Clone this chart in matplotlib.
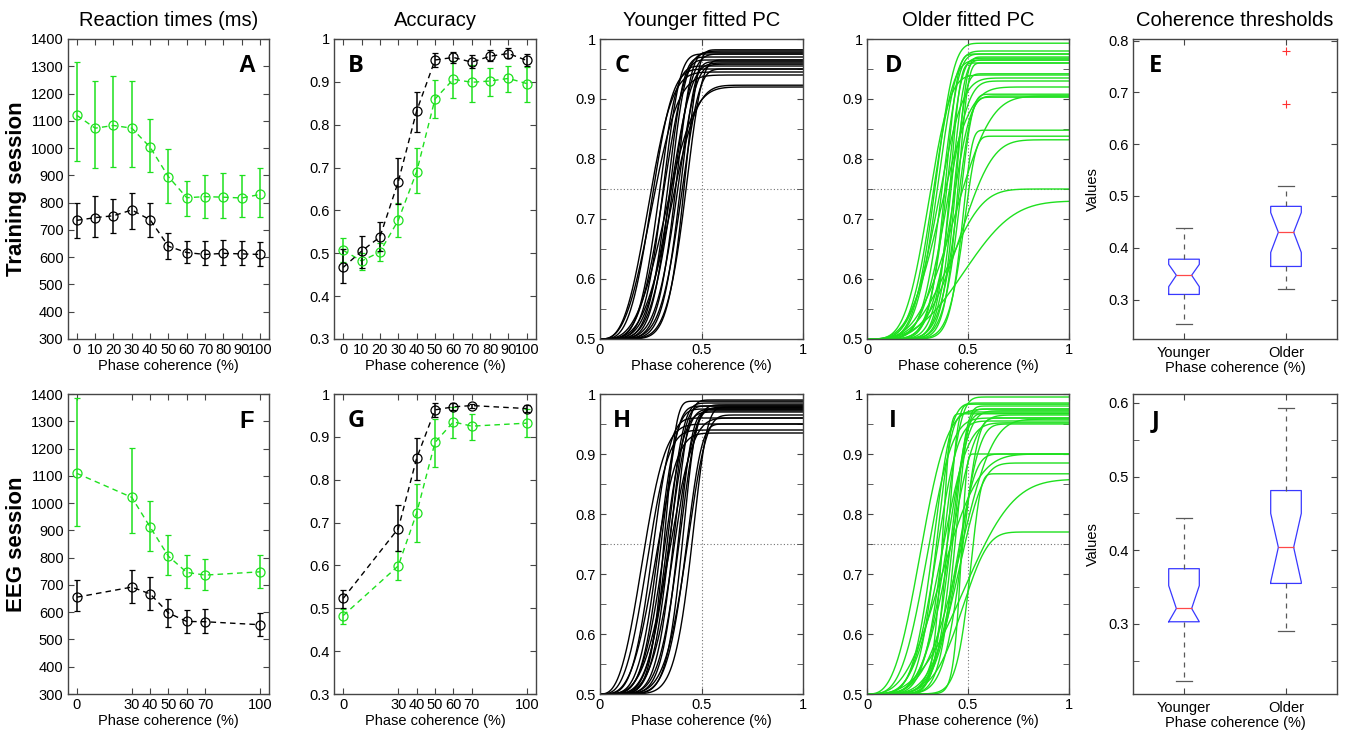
import numpy as np
import matplotlib.pyplot as plt
from matplotlib.ticker import MultipleLocator, FuncFormatter

plt.rcParams['font.family'] = ['Liberation Sans', 'DejaVu Sans']

GREEN = '#1ee01e'
FRAME = '#454545'

# ---- reaction times / accuracy, training session (x = 0..100 step 10)
x_train = [0, 10, 20, 30, 40, 50, 60, 70, 80, 90, 100]
rt_train_old = [1120, 1073, 1083, 1073, 1003, 895, 818, 822, 820, 817, 830]
rt_train_old_lo = [951, 926, 930, 930, 912, 797, 750, 742, 745, 748, 748]
rt_train_old_hi = [1317, 1245, 1263, 1245, 1105, 995, 880, 902, 908, 900, 927]
rt_train_young = [735, 745, 752, 773, 737, 640, 617, 610, 614, 612, 610]
rt_train_young_lo = [672, 673, 690, 705, 673, 595, 577, 570, 572, 570, 567]
rt_train_young_hi = [797, 826, 815, 835, 800, 690, 660, 658, 664, 660, 657]

acc_train_young = [0.467, 0.505, 0.538, 0.667, 0.832, 0.951, 0.957, 0.946, 0.960, 0.966, 0.950]
acc_train_young_lo = [0.430, 0.465, 0.505, 0.615, 0.782, 0.935, 0.945, 0.932, 0.948, 0.955, 0.937]
acc_train_young_hi = [0.510, 0.540, 0.572, 0.722, 0.877, 0.968, 0.970, 0.963, 0.974, 0.980, 0.965]
acc_train_old = [0.507, 0.482, 0.503, 0.577, 0.690, 0.860, 0.906, 0.899, 0.902, 0.908, 0.896]
acc_train_old_lo = [0.480, 0.460, 0.482, 0.537, 0.640, 0.815, 0.863, 0.853, 0.866, 0.877, 0.853]
acc_train_old_hi = [0.535, 0.500, 0.525, 0.618, 0.745, 0.905, 0.948, 0.940, 0.933, 0.938, 0.935]

# ---- EEG session
x_eeg = [0, 30, 40, 50, 60, 70, 100]
rt_eeg_old = [1109, 1021, 912, 805, 746, 736, 748]
rt_eeg_old_lo = [915, 889, 826, 737, 687, 681, 689]
rt_eeg_old_hi = [1385, 1202, 1006, 882, 808, 795, 811]
rt_eeg_young = [655, 692, 667, 597, 566, 565, 554]
rt_eeg_young_lo = [603, 633, 609, 545, 524, 522, 511]
rt_eeg_young_hi = [719, 753, 729, 649, 607, 612, 597]

acc_eeg_young = [0.523, 0.686, 0.850, 0.963, 0.970, 0.973, 0.966]
acc_eeg_young_lo = [0.501, 0.633, 0.799, 0.946, 0.962, 0.967, 0.957]
acc_eeg_young_hi = [0.543, 0.740, 0.897, 0.979, 0.979, 0.977, 0.974]
acc_eeg_old = [0.483, 0.599, 0.722, 0.887, 0.935, 0.925, 0.932]
acc_eeg_old_lo = [0.464, 0.566, 0.655, 0.830, 0.897, 0.893, 0.899]
acc_eeg_old_hi = [0.498, 0.633, 0.791, 0.942, 0.970, 0.953, 0.965]

# ---- fitted Weibull psychometric functions: (scale, shape, upper asymptote)
fit_train_young = [(0.27, 3.0, 0.945), (0.28, 3.5, 0.95), (0.29, 2.9, 0.94), (0.31, 4.5, 0.955),
                   (0.33, 5.0, 0.975), (0.34, 4.0, 0.98), (0.35, 5.5, 0.97), (0.36, 3.3, 0.92),
                   (0.36, 6.0, 0.965), (0.37, 4.5, 0.96), (0.38, 5.0, 0.975), (0.38, 3.8, 0.923),
                   (0.39, 6.5, 0.978), (0.40, 5.5, 0.958), (0.41, 7.0, 0.962), (0.42, 6.0, 0.95),
                   (0.43, 8.0, 0.982), (0.44, 7.0, 0.965)]
fit_train_old = [(0.36, 5.0, 0.993), (0.33, 4.0, 0.94), (0.35, 4.5, 0.965), (0.37, 5.0, 0.98),
                 (0.38, 4.0, 0.935), (0.39, 6.0, 0.975), (0.40, 3.5, 0.92), (0.41, 7.0, 0.968),
                 (0.42, 5.0, 0.93), (0.43, 8.0, 0.965), (0.44, 9.0, 0.942), (0.44, 6.0, 0.905),
                 (0.45, 10.0, 0.97), (0.46, 8.0, 0.903), (0.46, 11.0, 0.96), (0.47, 9.0, 0.908),
                 (0.48, 3.5, 0.905), (0.48, 12.0, 0.848), (0.49, 10.0, 0.838), (0.50, 4.0, 0.832),
                 (0.45, 3.5, 0.75), (0.55, 3.0, 0.73), (0.42, 10.0, 0.96), (0.40, 8.0, 0.975)]
fit_eeg_young = [(0.24, 2.8, 0.95), (0.26, 3.2, 0.94), (0.28, 4.0, 0.96), (0.30, 3.5, 0.935),
                 (0.31, 4.5, 0.975), (0.32, 5.0, 0.98), (0.33, 7.0, 0.988), (0.34, 4.5, 0.97),
                 (0.35, 5.5, 0.985), (0.36, 5.0, 0.975), (0.36, 6.0, 0.98), (0.37, 4.0, 0.96),
                 (0.38, 6.5, 0.99), (0.39, 5.0, 0.978), (0.40, 7.0, 0.972), (0.41, 6.0, 0.982),
                 (0.42, 8.0, 0.975), (0.44, 7.0, 0.95), (0.45, 6.0, 0.965), (0.47, 8.0, 0.978)]
fit_eeg_old = [(0.30, 3.0, 0.975), (0.33, 3.5, 0.96), (0.35, 5.0, 0.985), (0.37, 4.5, 0.955),
               (0.38, 12.0, 0.967), (0.40, 6.0, 0.995), (0.40, 4.0, 0.952), (0.41, 10.0, 0.983),
               (0.42, 5.0, 0.972), (0.43, 7.0, 0.968), (0.44, 4.5, 0.965), (0.45, 9.0, 0.975),
               (0.46, 6.0, 0.9), (0.47, 20.0, 0.9), (0.48, 5.0, 0.885), (0.49, 8.0, 0.96),
               (0.50, 4.0, 0.958), (0.52, 12.0, 0.867), (0.55, 3.0, 0.858), (0.50, 5.0, 0.77),
               (0.44, 8.0, 0.98), (0.42, 3.0, 0.9), (0.36, 6.0, 0.97), (0.48, 6.0, 0.95)]

# ---- coherence threshold boxplots (whislo, q1, cilo, med, cihi, q3, whishi, fliers)
group_labels = ['Younger', 'Older']
thr_train = [(0.252, 0.310, 0.325, 0.347, 0.368, 0.378, 0.439, []),
             (0.320, 0.364, 0.391, 0.430, 0.468, 0.480, 0.519, [0.678, 0.779])]
thr_eeg = [(0.223, 0.303, 0.303, 0.321, 0.352, 0.375, 0.444, []),
           (0.291, 0.355, 0.357, 0.404, 0.450, 0.481, 0.593, [])]

fig = plt.figure(figsize=(13.46, 7.32), dpi=100)
lefts = [67.7, 334, 600, 867, 1133]
widths = [201.5, 202, 203, 202, 204]
tops = [39, 394]
H = 300
axes = []
for r in range(2):
    row = []
    for c in range(5):
        ax = fig.add_axes([lefts[c] / 1346, 1 - (tops[r] + H) / 732, widths[c] / 1346, H / 732])
        for s in ax.spines.values():
            s.set_color(FRAME)
            s.set_linewidth(1.0)
        ax.tick_params(direction='in', top=True, right=True, which='both', length=4,
                       color=FRAME, labelsize=10.5, pad=3)
        row.append(ax)
    axes.append(row)

fmt = FuncFormatter(lambda v, p: f'{v:g}')


def err_series(ax, x, m, lo, hi, color):
    m = np.array(m)
    yerr = [m - np.array(lo), np.array(hi) - m]
    ax.errorbar(x, m, yerr=yerr, fmt='o', mfc='none', mec=color, ms=6.5, mew=0.9,
                ecolor=color, elinewidth=1.1, capsize=2, capthick=1.0, zorder=3)
    ax.plot(x, m, linestyle=(0, (4, 3)), color=color, lw=1.0, zorder=2)


def rt_panel(ax, x, series, ticks):
    for m, lo, hi, col in series:
        err_series(ax, x, m, lo, hi, col)
    ax.set_xlim(-5, 105)
    ax.set_xticks(ticks)
    ax.set_xlabel('Phase coherence (%)', fontsize=10.5, labelpad=1)
    ax.yaxis.set_major_formatter(fmt)


def pc_panel(ax, fits, color):
    xs = np.linspace(0, 1, 500)
    for a, b, top in fits:
        ax.plot(xs, 0.5 + (top - 0.5) * (1 - np.exp(-(xs / a) ** b)), color=color, lw=1.0)
    ax.axvline(0.5, color='0.45', lw=0.8, ls=(0, (1, 2)), zorder=0)
    ax.axhline(0.75, color='0.45', lw=0.8, ls=(0, (1, 2)), zorder=0)
    ax.set_xlim(0, 1)
    ax.set_ylim(0.5, 1)
    ax.set_xticks([0, 0.5, 1])
    ax.set_yticks(np.arange(0.5, 1.01, 0.1))
    ax.yaxis.set_minor_locator(MultipleLocator(0.05))
    ax.xaxis.set_major_formatter(fmt)
    ax.yaxis.set_major_formatter(fmt)
    ax.set_xlabel('Phase coherence (%)', fontsize=10.5, labelpad=1)


def box_panel(ax, thr, ylim, minor):
    stats = []
    for lab, (wl, q1, cl, md, ch, q3, wh, fl) in zip(group_labels, thr):
        stats.append(dict(label=lab, whislo=wl, q1=q1, cilo=cl, med=md, cihi=ch,
                          q3=q3, whishi=wh, fliers=fl))
    ax.bxp(stats, positions=[1, 2], widths=0.3, shownotches=True,
           boxprops=dict(color='#3838ff', lw=0.9),
           medianprops=dict(color='#ff4848', lw=0.9),
           whiskerprops=dict(color='0.35', lw=0.9, ls=(0, (4, 4))),
           capprops=dict(color='0.35', lw=0.9),
           flierprops=dict(marker='+', markeredgecolor='#ff3030', ms=6, mew=0.8))
    ax.set_xlim(0.5, 2.5)
    ax.set_ylim(*ylim)
    ax.yaxis.set_major_locator(MultipleLocator(0.1))
    if minor:
        ax.yaxis.set_minor_locator(MultipleLocator(0.05))
    ax.yaxis.set_major_formatter(fmt)
    ax.tick_params(axis='x', length=4, labelsize=10.5, pad=5)
    ax.set_xlabel('Phase coherence (%)', fontsize=10.5, labelpad=1)
    ax.set_ylabel('Values', fontsize=10.5, labelpad=6)


# row 1
ax = axes[0][0]
rt_panel(ax, x_train, [(rt_train_old, rt_train_old_lo, rt_train_old_hi, GREEN),
                       (rt_train_young, rt_train_young_lo, rt_train_young_hi, 'black')],
         x_train)
ax.set_ylim(300, 1400)
ax.set_yticks(range(300, 1401, 100))
ax = axes[0][1]
rt_panel(ax, x_train, [(acc_train_old, acc_train_old_lo, acc_train_old_hi, GREEN),
                       (acc_train_young, acc_train_young_lo, acc_train_young_hi, 'black')],
         x_train)
ax.set_ylim(0.3, 1)
ax.set_yticks(np.arange(0.3, 1.01, 0.1))
pc_panel(axes[0][2], fit_train_young, 'black')
pc_panel(axes[0][3], fit_train_old, GREEN)
box_panel(axes[0][4], thr_train, (0.224, 0.803), False)

# row 2
ax = axes[1][0]
rt_panel(ax, x_eeg, [(rt_eeg_old, rt_eeg_old_lo, rt_eeg_old_hi, GREEN),
                     (rt_eeg_young, rt_eeg_young_lo, rt_eeg_young_hi, 'black')],
         x_eeg)
ax.set_ylim(300, 1400)
ax.set_yticks(range(300, 1401, 100))
ax = axes[1][1]
rt_panel(ax, x_eeg, [(acc_eeg_old, acc_eeg_old_lo, acc_eeg_old_hi, GREEN),
                     (acc_eeg_young, acc_eeg_young_lo, acc_eeg_young_hi, 'black')],
         x_eeg)
ax.set_ylim(0.3, 1)
ax.set_yticks(np.arange(0.3, 1.01, 0.1))
pc_panel(axes[1][2], fit_eeg_young, 'black')
pc_panel(axes[1][3], fit_eeg_old, GREEN)
box_panel(axes[1][4], thr_eeg, (0.205, 0.612), True)

# titles
titles = ['Reaction times (ms)', 'Accuracy', 'Younger fitted PC', 'Older fitted PC',
          'Coherence thresholds']
for ax, t in zip(axes[0], titles):
    ax.set_title(t, fontsize=14.5, pad=9)

# panel letters
letters = [['A', 'B', 'C', 'D', 'E'], ['F', 'G', 'H', 'I', 'J']]
letter_x = [0.89, 0.11, 0.11, 0.13, 0.11]
for r in range(2):
    for c in range(5):
        fam = ['Liberation Sans'] if c == 0 else ['Open Sans', 'DejaVu Sans']
        axes[r][c].text(letter_x[c], 0.91, letters[r][c], transform=axes[r][c].transAxes,
                        fontsize=17, fontweight='bold', family=fam,
                        ha='center', va='center')

fig.text(17 / 1346, 1 - 189 / 732, 'Training session', rotation=90, fontsize=16,
         fontweight='bold', ha='center', va='center')
fig.text(17 / 1346, 1 - 544 / 732, 'EEG session', rotation=90, fontsize=16,
         fontweight='bold', ha='center', va='center')

fig.savefig('out.png', dpi=100)
